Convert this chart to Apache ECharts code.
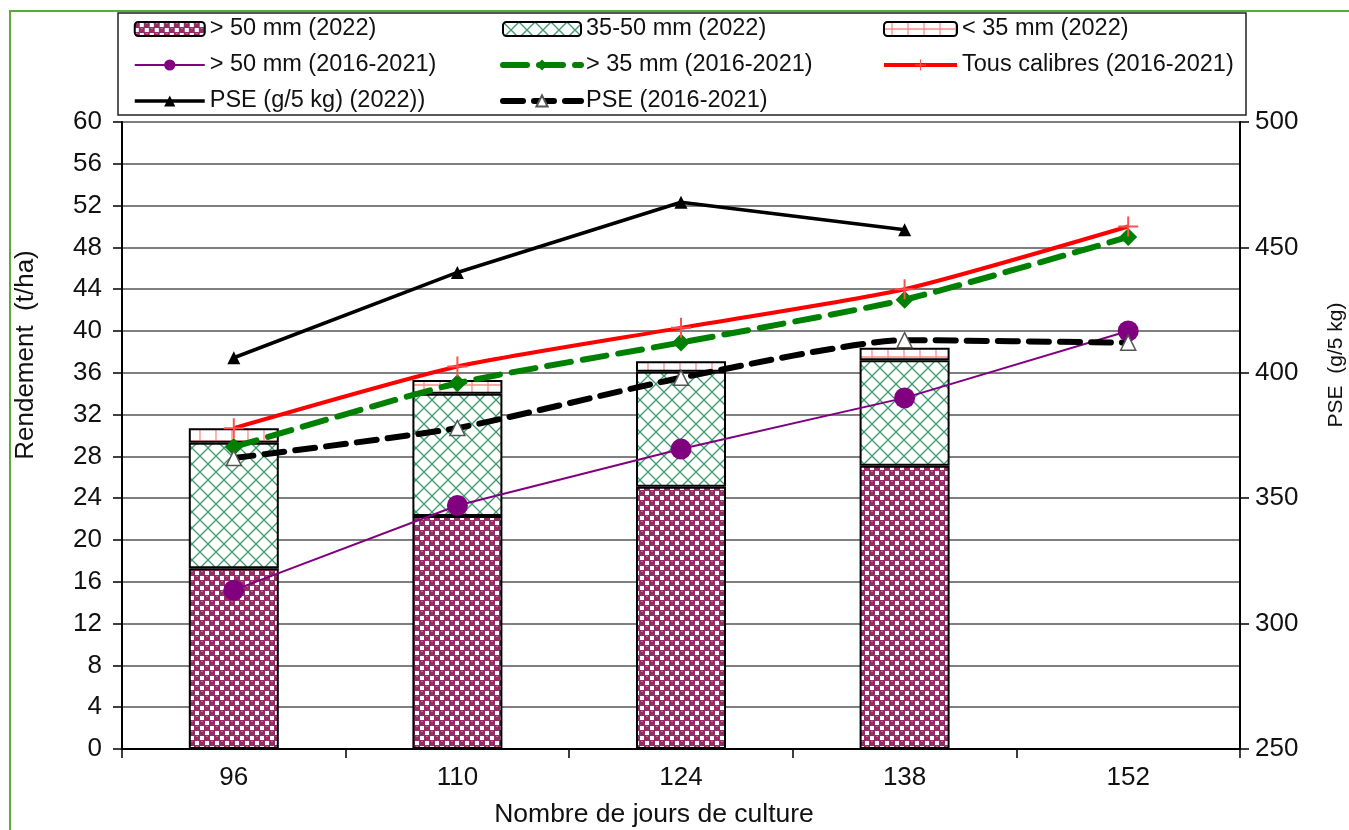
<!DOCTYPE html>
<html><head><meta charset="utf-8">
<script src="https://cdn.jsdelivr.net/npm/echarts@6/dist/echarts.min.js"></script>
<style>html,body{margin:0;padding:0;background:#fff}#c{width:1349px;height:830px}</style>
</head><body><div id="c"></div>
<script>
const categories = ['96', '110', '124', '138', '152'];
const bar50_2022 = [17.3, 22.3, 25.1, 27.1, null];
const bar35_50_2022 = [12.0, 11.7, 11.0, 10.1, null];
const barLt35_2022 = [1.4, 1.3, 1.0, 1.2, null];
const line50_hist = [15.2, 23.3, 28.7, 33.6, 40.0];
const line35_hist = [28.9, 35.0, 38.9, 43.0, 49.0];
const lineAll_hist = [30.7, 36.6, 40.3, 44.0, 50.0];
const pse2022 = [406, 440, 468, 457, null];
const pseHist = [366, 378, 398, 413, 412];
const leftTicks = {min: 0, max: 60, interval: 4};
const rightTicks = {min: 250, max: 500, interval: 50};

function tile(w, h, draw) {
  const c = document.createElement('canvas'); c.width = w; c.height = h;
  const g = c.getContext('2d'); draw(g, w, h); return {image: c, repeat: 'repeat'};
}
const maroon = tile(10, 10, (g) => {
  g.fillStyle = '#962c66'; g.fillRect(0, 0, 10, 10);
  g.fillStyle = '#ffffff'; g.fillRect(0, 6, 4, 4); g.fillRect(5, 1, 4, 4);
  g.fillStyle = '#c46a9a'; g.fillRect(1, 1, 2, 1); g.fillRect(6, 6, 2, 1);
});
const lattice = tile(16, 16, (g) => {
  g.fillStyle = '#ffffff'; g.fillRect(0, 0, 16, 16);
  g.strokeStyle = '#3a9a6c'; g.lineWidth = 1.3;
  g.beginPath(); g.moveTo(0, 0); g.lineTo(16, 16); g.moveTo(16, 0); g.lineTo(0, 16); g.stroke();
});
const pinkGrid = tile(16, 14, (g) => {
  g.fillStyle = '#ffffff'; g.fillRect(0, 0, 16, 14);
  g.strokeStyle = '#ff8a8a'; g.lineWidth = 1.3;
  g.beginPath(); g.moveTo(8, 0); g.lineTo(8, 14); g.moveTo(0, 7); g.lineTo(16, 7); g.stroke();
});

const FONT = 'Liberation Sans';
const chart = echarts.init(document.getElementById('c'), null, {renderer: 'canvas'});
const barStyle = (col) => ({color: col, borderColor: '#000', borderWidth: 2});
const legendText = {fontFamily: FONT, fontSize: 23.5, color: '#111'};
const plusPath = 'path://M9,0 h2 v9 h9 v2 h-9 v9 h-2 v-9 h-9 v-2 h9 z';
const legendCommon = {orient: 'vertical', top: 12, itemHeight: 14, itemGap: 12, textStyle: legendText,
  lineStyle: {width: 'inherit', type: 'inherit'}};

chart.setOption({
  animation: false,
  textStyle: {fontFamily: FONT},
  grid: {left: 122, right: 109, top: 122, bottom: 81},
  legend: [
    Object.assign({left: 128, itemWidth: 70,
     data: ['> 50 mm (2022)', '> 50 mm (2016-2021)', 'PSE (g/5 kg) (2022))']}, legendCommon),
    Object.assign({left: 495, itemWidth: 78,
     data: ['35-50 mm (2022)', '> 35 mm (2016-2021)', 'PSE (2016-2021)']}, legendCommon),
    Object.assign({left: 877, itemWidth: 73,
     data: ['< 35 mm (2022)', 'Tous calibres (2016-2021)']}, legendCommon)
  ],
  graphic: [
    {type: 'rect', shape: {x: 10, y: 11, width: 1400, height: 900}, style: {fill: 'none', stroke: '#5aaa3c', lineWidth: 2}, z: -1},
    {type: 'rect', shape: {x: 118, y: 13, width: 1128, height: 102}, style: {fill: 'none', stroke: '#222', lineWidth: 1.5}},
    {type: 'text', x: 26, y: 355, rotation: Math.PI / 2, style: {text: 'Rendement  (t/ha)', font: '26px "Liberation Sans"', fill: '#111', align: 'center', verticalAlign: 'middle'}},
    {type: 'text', x: 1336, y: 365, rotation: Math.PI / 2, style: {text: 'PSE  (g/5 kg)', font: '21px "Liberation Sans"', fill: '#111', align: 'center', verticalAlign: 'middle'}},
    {type: 'text', x: 654, y: 815, style: {text: 'Nombre de jours de culture', font: '26.5px "Liberation Sans"', fill: '#111', align: 'center', verticalAlign: 'middle'}}
  ],
  xAxis: {
    type: 'category', data: categories, boundaryGap: true,
    axisLine: {lineStyle: {color: '#000', width: 2}},
    axisTick: {show: true, length: 9, alignWithLabel: false, lineStyle: {color: '#000', width: 1.5}},
    axisLabel: {color: '#111', fontSize: 26, margin: 16, fontFamily: FONT},
    splitLine: {show: false}
  },
  yAxis: [
    {type: 'value', min: leftTicks.min, max: leftTicks.max, interval: leftTicks.interval, position: 'left',
     axisLine: {show: true, lineStyle: {color: '#000', width: 2}},
     axisTick: {show: true, length: 9, lineStyle: {color: '#000', width: 1.5}},
     axisLabel: {color: '#111', fontSize: 26, margin: 20, fontFamily: FONT},
     splitLine: {show: true, lineStyle: {color: '#555', width: 1.5}}},
    {type: 'value', min: rightTicks.min, max: rightTicks.max, interval: rightTicks.interval, position: 'right',
     axisLine: {show: true, lineStyle: {color: '#000', width: 2}},
     axisTick: {show: true, length: 9, lineStyle: {color: '#000', width: 1.5}},
     axisLabel: {color: '#111', fontSize: 26, margin: 15, fontFamily: FONT},
     splitLine: {show: false}}
  ],
  series: [
    {name: '> 50 mm (2022)', type: 'bar', stack: 'y22', barWidth: 90, data: bar50_2022, itemStyle: barStyle(maroon), z: 2},
    {name: '35-50 mm (2022)', type: 'bar', stack: 'y22', barWidth: 90, data: bar35_50_2022, itemStyle: barStyle(lattice), z: 2},
    {name: '< 35 mm (2022)', type: 'bar', stack: 'y22', barWidth: 90, data: barLt35_2022, itemStyle: barStyle(pinkGrid), z: 2},
    {name: '> 50 mm (2016-2021)', type: 'line', data: line50_hist, symbol: 'circle', symbolSize: 21,
     lineStyle: {color: '#800080', width: 2}, itemStyle: {color: '#800080'}, z: 5},
    {name: '> 35 mm (2016-2021)', type: 'line', data: line35_hist, symbol: 'diamond', symbolSize: 18, smooth: 0.2,
     lineStyle: {color: '#008000', width: 6, type: [24, 12], cap: 'round'}, itemStyle: {color: '#008000'}, z: 5},
    {name: 'Tous calibres (2016-2021)', type: 'line', data: lineAll_hist, symbol: plusPath, symbolSize: 20, smooth: 0.2,
     lineStyle: {color: '#ff0000', width: 4}, itemStyle: {color: '#ff5050'}, z: 6},
    {name: 'PSE (g/5 kg) (2022))', type: 'line', yAxisIndex: 1, data: pse2022, symbol: 'triangle', symbolSize: 13,
     lineStyle: {color: '#000', width: 3.5}, itemStyle: {color: '#000'}, z: 6},
    {name: 'PSE (2016-2021)', type: 'line', yAxisIndex: 1, data: pseHist, symbol: 'triangle', symbolSize: 15, smooth: 0.2,
     lineStyle: {color: '#000', width: 6, type: [20, 11], cap: 'round'}, itemStyle: {color: '#fff', borderColor: '#555', borderWidth: 1.5}, z: 5}
  ]
});
</script></body></html>
